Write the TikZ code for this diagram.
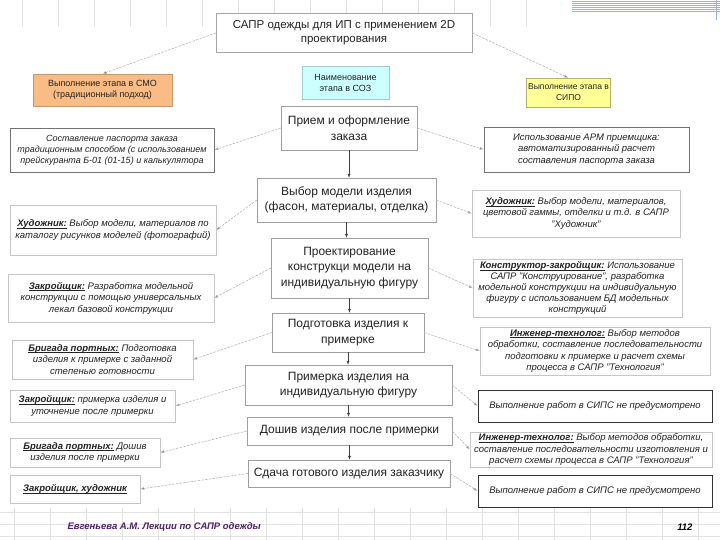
\documentclass[tikz,border=0pt]{standalone}
\usepackage{fontspec}
\setmainfont{Liberation Sans}
\usetikzlibrary{arrows.meta}
\definecolor{orangefill}{RGB}{249,188,132}
\definecolor{cyanfill}{RGB}{204,255,255}
\definecolor{yellowfill}{RGB}{255,255,150}
\definecolor{footcol}{RGB}{80,30,110}
\definecolor{stripe}{RGB}{150,180,225}
\definecolor{txt}{RGB}{35,35,35}
\tikzset{
  base/.style={draw=gray!60, fill=white, align=center, inner sep=1pt, text=txt},
  cbox/.style={base, draw=gray!75, font=\fontsize{12}{15.5}\selectfont},
  sbox/.style={base, draw=gray!45, font=\fontsize{9.5}{11.5}\selectfont\itshape},
  dbox/.style={sbox, draw=black!80, line width=0.9pt},
  mbox/.style={sbox, draw=black!55, line width=0.6pt},
  hbox/.style={base, draw=gray!70, font=\fontsize{9}{11}\selectfont},
  side/.style={draw=gray!55, dash pattern=on 2.5pt off 1.2pt, line width=0.6pt,
    -{Latex[length=4pt,width=3pt,fill=black]}},
  down/.style={draw=black!75, line width=0.5pt, -{Latex[length=4pt,width=3pt]}},
  grid/.style={draw=gray!22, line width=0.5pt}
}
\newcommand{\rl}[1]{\setbox0\hbox{\bfseries #1}\rlap{\rule[-1.6pt]{\wd0}{0.5pt}}\box0\relax}
\begin{document}
\begin{tikzpicture}[x=1pt,y=-1pt]
\useasboundingbox (0,0) rectangle (720,540);
\fill[white] (0,0) rectangle (720,540);
% background decoration
\foreach \gx in {22,58,94,130,166,202,238,274,310,346,382,418,454,490,526}
  \draw[grid] (\gx,0) -- (\gx,26);
\foreach \sy in {1,3,5,7,9,11}
  \draw[stripe, line width=0.8pt] (572,\sy) -- (720,\sy);
\draw[stripe, line width=0.8pt] (716,0) -- (716,20);
\foreach \gx in {14,50,86,122,158,194,230,266,302,338,374,410,446,482,518,554,590,626,662,698}
  \draw[grid] (\gx,508) -- (\gx,540);
\foreach \gy in {512,524,536}
  \draw[grid] (0,\gy) -- (720,\gy);

% header nodes
\node[hbox, font=\fontsize{11.5}{14}\selectfont, minimum width=256pt, minimum height=39pt] (title) at (344,33)
  {САПР одежды для ИП с применением 2D\\проектирования};
\node[hbox, fill=orangefill, draw=orangefill!80!black, minimum width=139pt, minimum height=32pt] (smo) at (102.5,90)
  {Выполнение этапа в СМО\\(традиционный подход)};
\node[hbox, fill=cyanfill, draw=cyanfill!80!black, minimum width=87pt, minimum height=33pt] (soz) at (345.5,82.5)
  {Наименование\\этапа в СОЗ};
\node[hbox, font=\fontsize{8.5}{11}\selectfont, fill=yellowfill, draw=yellowfill!70!black, minimum width=84pt, minimum height=29pt] (sipo) at (568.5,92.5)
  {Выполнение этапа в\\СИПО};

% center column
\node[cbox, minimum width=136pt, minimum height=44pt] (c1) at (349,128) {Прием и оформление\\заказа};
\node[cbox, minimum width=179pt, minimum height=44pt] (c2) at (346.5,200) {Выбор модели изделия\\(фасон, материалы, отделка)};
\node[cbox, minimum width=157pt, minimum height=60pt] (c3) at (349.5,268) {Проектирование\\конструкци модели на\\индивидуальную фигуру};
\node[cbox, minimum width=152pt, minimum height=39pt] (c4) at (348,332.5) {Подготовка изделия к\\примерке};
\node[cbox, minimum width=207pt, minimum height=40pt] (c5) at (348.5,385) {Примерка изделия на\\индивидуальную фигуру};
\node[cbox, minimum width=205pt, minimum height=28pt] (c6) at (349.5,431) {Дошив изделия после примерки};
\node[cbox, minimum width=202pt, minimum height=27pt] (c7) at (349,473.5) {Сдача готового изделия заказчику};

% left column
\node[mbox, font=\fontsize{9}{11}\selectfont\itshape, minimum width=204pt, minimum height=44pt] (l1) at (112,150)
  {Составление паспорта заказа\\традиционным способом (с использованием\\прейскуранта Б-01 (01-15) и калькулятора};
\node[sbox, minimum width=206pt, minimum height=50pt] (l2) at (113,230)
  {\rl{Художник:} Выбор модели, материалов по\\каталогу рисунков моделей (фотографий)};
\node[sbox, minimum width=206pt, minimum height=48pt] (l3) at (111,298)
  {\rl{Закройщик:} Разработка модельной\\конструкции с помощью универсальных\\лекал базовой конструкции};
\node[sbox, minimum width=181pt, minimum height=39pt] (l4) at (102.5,359.5)
  {\rl{Бригада портных:} Подготовка\\изделия к примерке с заданной\\степенью готовности};
\node[sbox, minimum width=165pt, minimum height=32pt] (l5) at (92.5,406)
  {\rl{Закройщик:} примерка изделия и\\уточнение после примерки};
\node[sbox, minimum width=150pt, minimum height=29pt] (l6) at (85,452.5)
  {\rl{Бригада портных:} Дошив\\изделия после примерки};
\node[sbox, minimum width=130pt, minimum height=28pt] (l7) at (75,489)
  {\rl{Закройщик, художник}};

% right column
\node[mbox, minimum width=205pt, minimum height=45pt] (r1) at (586.5,149.5)
  {Использование АРМ приемщика:\\автоматизированный расчет\\составления паспорта заказа};
\node[sbox, minimum width=208pt, minimum height=47pt] (r2) at (576,213.5)
  {\rl{Художник:} Выбор модели, материалов,\\цветовой гаммы, отделки и т.д. в САПР\\"Художник"};
\node[sbox, font=\fontsize{9.5}{10.8}\selectfont\itshape, minimum width=209pt, minimum height=58pt] (r3) at (577.5,288)
  {\rl{Конструктор-закройщик:} Использование\\САПР "Конструирование", разработка\\модельной конструкции на индивидуальную\\фигуру с использованием БД модельных\\конструкций};
\node[sbox, minimum width=230pt, minimum height=48pt] (r4) at (595,351)
  {\rl{Инженер-технолог:} Выбор методов\\обработки, составление последовательности\\подготовки к примерке и расчет схемы\\процесса в САПР "Технология"};
\node[dbox, minimum width=234pt, minimum height=32pt] (r5) at (595,406)
  {Выполнение работ в СИПС не предусмотрено};
\node[sbox, minimum width=242pt, minimum height=35pt] (r6) at (591,449.5)
  {\rl{Инженер-технолог:} Выбор методов обработки,\\составление последовательности изготовления и\\расчет схемы процесса в САПР "Технология"};
\node[dbox, minimum width=234pt, minimum height=32pt] (r7) at (595,491)
  {Выполнение работ в СИПС не предусмотрено};

% connectors
\draw[side] (title.west) -- (smo.north);
\draw[side] (title.east) -- (sipo.north);
\foreach \c/\l/\r in {c1/l1/r1,c2/l2/r2,c3/l3/r3,c4/l4/r4,c5/l5/r5,c6/l6/r6,c7/l7/r7}{
  \draw[side] (\c.west) -- (\l.east);
  \draw[side] (\c.east) -- (\r.west);
}
\foreach \a/\b in {c1/c2,c2/c3,c3/c4,c4/c5,c5/c6,c6/c7}
  \draw[down] (\a.south) -- (\a.south |- \b.north);

% footer
\node[font=\fontsize{9.5}{11}\selectfont\bfseries\itshape, text=footcol, anchor=west] (foot) at (64,527)
  {Евгеньева А.М. Лекции по САПР одежды};
\node[font=\fontsize{9.5}{11}\selectfont\bfseries\itshape, anchor=east] (page) at (696,527) {112};
\end{tikzpicture}
\end{document}
